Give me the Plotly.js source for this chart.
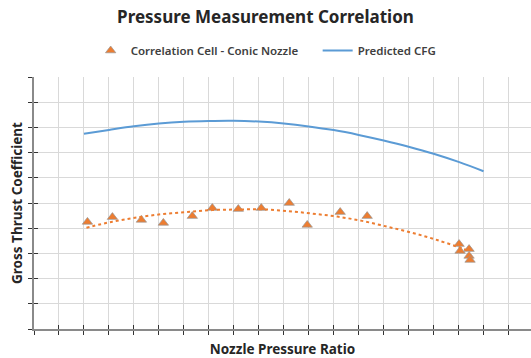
<!DOCTYPE html>
<html>
<head>
<meta charset="utf-8">
<script src="https://cdn.plot.ly/plotly-3.0.1.min.js"></script>
<style>html,body{margin:0;padding:0;background:#fff;}#chart{width:531px;height:358px;}</style>
</head>
<body>
<div id="chart"></div>
<script>
// Measured data: Correlation Cell - Conic Nozzle
const measuredNPR = [1.535, 1.785, 2.075, 2.295, 2.585, 2.785, 3.045, 3.275, 3.555, 3.735, 4.065, 4.335, 5.255, 5.265, 5.355, 5.355, 5.365];
const measuredCFG = [0.9425, 0.9444, 0.9433, 0.9421, 0.9448, 0.9480, 0.9476, 0.9480, 0.9500, 0.9413, 0.9464, 0.9448, 0.9337, 0.9310, 0.9317, 0.9290, 0.9274];

const trendNPR = [1.525, 1.785, 2.035, 2.285, 2.535, 2.785, 3.035, 3.285, 3.535, 3.785, 4.035, 4.285, 4.535, 4.785, 5.035, 5.285, 5.365];
const trendCFG = [0.9402, 0.9426, 0.9443, 0.9456, 0.9464, 0.9472, 0.9474, 0.9475, 0.9468, 0.9458, 0.9446, 0.9429, 0.9406, 0.9382, 0.9353, 0.9320, 0.9307];

// Predicted CFG
const predNPR = [1.50, 1.75, 2.00, 2.25, 2.50, 2.75, 3.00, 3.25, 3.50, 3.75, 4.00, 4.25, 4.50, 4.75, 5.00, 5.25, 5.50];
const predCFG = [0.97750, 0.97901, 0.98044, 0.98155, 0.98226, 0.98258, 0.98266, 0.98230, 0.98155, 0.98040, 0.97893, 0.97702, 0.97480, 0.97234, 0.96956, 0.96631, 0.96262];

const seriesNames = ['Correlation Cell - Conic Nozzle', 'Predicted CFG'];
const titleText = 'Pressure Measurement Correlation';
const xTitle = 'Nozzle Pressure Ratio';
const yTitle = 'Gross Thrust Coefficient';

const xRange = [1.0, 5.975];
const yRange = [0.90, 1.00];

const FONT = '"Noto Sans", "Open Sans", sans-serif';
const ORANGE = '#ED7D31';
const BLUE = '#5B9BD5';

const traces = [
  {
    x: measuredNPR, y: measuredCFG, type: 'scatter', mode: 'markers',
    name: seriesNames[0],
    marker: {symbol: 'triangle-up', size: 9, color: ORANGE, line: {color: 'rgba(150,150,150,0.7)', width: 1}}
  },
  {
    x: trendNPR, y: trendCFG, type: 'scatter', mode: 'lines', line: {shape: 'spline', color: ORANGE, width: 2, dash: 'dot'},
    showlegend: false, hoverinfo: 'skip'
  },
  {
    x: predNPR, y: predCFG, type: 'scatter', mode: 'lines',
    name: seriesNames[1],
    line: {color: BLUE, width: 2, shape: 'spline'}
  },
  // helper trace on overlay axes (for inner tick halves)
  {x: [xRange[0]], y: [yRange[0]], xaxis: 'x2', yaxis: 'y2', type: 'scatter', mode: 'markers',
   marker: {opacity: 0}, showlegend: false, hoverinfo: 'skip'}
];

const baseAx = {
  showgrid: true, gridcolor: '#d9d9d9', gridwidth: 1,
  showline: true, linecolor: '#8a8a8a', linewidth: 2,
  ticks: 'outside', ticklen: 4, tickcolor: '#333', tickwidth: 1,
  showticklabels: false, zeroline: false, fixedrange: true
};

const layout = {
  width: 531, height: 358,
  margin: {l: 34, r: 0, t: 77, b: 29, autoexpand: false},
  paper_bgcolor: '#fff', plot_bgcolor: '#fff',
  font: {family: FONT, color: '#404040'},
  title: {text: '<b>' + titleText + '</b>', x: 0.5, xref: 'container', xanchor: 'center', y: 0.953, yanchor: 'middle', font: {size: 17, color: '#262626', family: FONT}},
  showlegend: true,
  legend: {orientation: 'h', x: 0.114, xanchor: 'left', y: 1.105, yanchor: 'middle', entrywidth: 182, entrywidthmode: 'pixels',
    font: {size: 11.5, color: '#404040', family: FONT, weight: 600}, itemwidth: 30},
  xaxis: Object.assign({}, baseAx, {range: xRange, dtick: 0.25, tick0: 1.0,
    title: {text: '<b>' + xTitle + '</b>', font: {size: 13.5, color: '#262626', family: FONT}, standoff: 12}}),
  yaxis: Object.assign({}, baseAx, {range: yRange, dtick: 0.01, tick0: 0.90,
    title: {text: '<b>' + yTitle + '</b>', font: {size: 13.5, color: '#262626', family: FONT}, standoff: 2}}),
  xaxis2: {overlaying: 'x', anchor: 'y2', side: 'bottom', range: xRange, dtick: 0.25, tick0: 1.0, ticks: 'inside', ticklen: 4, tickcolor: '#333', tickwidth: 1,
    showgrid: false, showline: false, showticklabels: false, zeroline: false, fixedrange: true},
  yaxis2: {overlaying: 'y', anchor: 'x2', side: 'left', range: yRange, dtick: 0.01, tick0: 0.90, ticks: 'inside', ticklen: 4, tickcolor: '#333', tickwidth: 1,
    showgrid: false, showline: false, showticklabels: false, zeroline: false, fixedrange: true}
};

Plotly.newPlot('chart', traces, layout, {displayModeBar: false, staticPlot: true});
</script>
</body>
</html>
